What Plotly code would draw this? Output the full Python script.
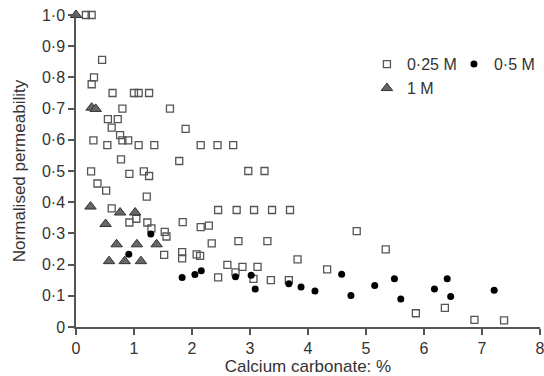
import plotly.graph_objects as go

# 0.25 M (open squares)
x_025 = [0.17, 0.27, 0.45, 0.31, 0.27, 0.63, 1.00, 1.08, 1.26, 0.80, 1.62,
         0.55, 0.72, 0.615, 1.89, 0.76, 0.80, 0.90, 0.30, 0.54, 1.08, 1.35,
         2.15, 2.44, 2.71, 0.776, 1.78, 0.26, 0.92, 1.17, 1.26, 2.97, 3.25,
         0.37, 0.52, 1.22, 0.615, 2.45, 2.77, 3.07, 3.38, 3.69, 0.92, 1.04,
         1.23, 1.30, 1.53, 1.56, 1.84, 2.15, 2.29, 2.34, 2.80, 3.30, 4.84,
         1.52, 1.83, 1.83, 2.08, 2.14, 3.82, 4.33, 2.61, 2.75, 2.87, 3.13,
         2.45, 3.06, 3.36, 3.67, 5.34, 5.86, 6.36, 6.87, 7.38]
y_025 = [1.00, 1.00, 0.856, 0.80, 0.778, 0.75, 0.75, 0.75, 0.75, 0.70, 0.70,
         0.666, 0.666, 0.639, 0.635, 0.615, 0.598, 0.598, 0.598, 0.583, 0.583, 0.583,
         0.583, 0.583, 0.583, 0.537, 0.532, 0.499, 0.491, 0.499, 0.484, 0.50, 0.50,
         0.46, 0.437, 0.418, 0.38, 0.375, 0.375, 0.375, 0.375, 0.375, 0.335, 0.347,
         0.335, 0.316, 0.305, 0.29, 0.336, 0.32, 0.325, 0.268, 0.275, 0.275, 0.307,
         0.231, 0.24, 0.22, 0.233, 0.228, 0.217, 0.185, 0.199, 0.175, 0.193, 0.193,
         0.159, 0.154, 0.15, 0.15, 0.249, 0.044, 0.061, 0.023, 0.021]

# 0.5 M (filled circles)
x_05 = [1.29, 0.91, 1.83, 2.05, 2.16, 2.75, 3.02, 3.09, 3.67, 3.88,
        4.12, 4.58, 4.74, 5.15, 5.49, 5.60, 6.18, 6.40, 6.46, 7.21]
y_05 = [0.298, 0.233, 0.159, 0.168, 0.18, 0.161, 0.166, 0.122, 0.139, 0.128,
        0.115, 0.169, 0.101, 0.133, 0.155, 0.09, 0.122, 0.155, 0.098, 0.118]

# 1 M (triangles)
x_1 = [0.0, 0.27, 0.34, 0.25, 0.76, 1.02, 0.51, 0.70, 1.05, 1.39, 0.57, 0.84, 1.12]
y_1 = [1.0, 0.703, 0.699, 0.386, 0.367, 0.367, 0.33, 0.265, 0.265, 0.265, 0.211, 0.211, 0.211]

x_ticks = [0, 1, 2, 3, 4, 5, 6, 7, 8]
y_ticks = [0, 0.1, 0.2, 0.3, 0.4, 0.5, 0.6, 0.7, 0.8, 0.9, 1.0]
y_ticktext = ["0", "0·1", "0·2", "0·3", "0·4", "0·5", "0·6", "0·7", "0·8", "0·9", "1·0"]

FONT = "Liberation Sans, Arial, sans-serif"
AX = "#555555"

fig = go.Figure()
fig.add_trace(go.Scatter(
    x=x_025, y=y_025, mode="markers", name="0·25 M", cliponaxis=False, legend="legend",
    marker=dict(symbol="square-open", size=7, color="#555555", line=dict(width=1.3, color="#555555"))))
fig.add_trace(go.Scatter(
    x=x_05, y=y_05, mode="markers", name="0·5 M", cliponaxis=False, legend="legend",
    marker=dict(symbol="circle", size=7, color="#000000", line=dict(width=0))))
fig.add_trace(go.Scatter(
    x=x_1, y=y_1, mode="markers", name="1 M", cliponaxis=False, legend="legend2",
    marker=dict(symbol="triangle-up", size=10, color="#666666", line=dict(width=1, color="#333333"))))

legend_common = dict(orientation="h", xanchor="left", yanchor="top",
                     bgcolor="rgba(0,0,0,0)", font=dict(size=16, color="#333333"),
                     entrywidth=42, entrywidthmode="pixels", itemwidth=30)

fig.update_layout(
    width=544, height=376,
    margin=dict(l=76, r=4, t=15, b=49, autoexpand=False),
    paper_bgcolor="white", plot_bgcolor="white",
    font=dict(family=FONT, size=16, color="#333333"),
    showlegend=True,
    legend=dict(x=0.627, y=0.897, **legend_common),
    legend2=dict(x=0.627, y=0.82, **legend_common),
)
fig.update_xaxes(
    range=[0, 8], tickvals=x_ticks, ticktext=[str(v) for v in x_ticks],
    showline=True, linecolor=AX, linewidth=1.5, ticks="outside", ticklen=6,
    tickcolor=AX, tickwidth=1.5, showgrid=False, zeroline=False,
    ticklabeloverflow="allow",
    title=dict(text="Calcium carbonate: %", font=dict(size=17), standoff=2),
    tickfont=dict(size=16))
fig.update_yaxes(
    range=[0, 1.0], tickvals=y_ticks, ticktext=y_ticktext,
    showline=True, linecolor=AX, linewidth=1.5, ticks="outside", ticklen=6,
    tickcolor=AX, tickwidth=1.5, showgrid=False, zeroline=False,
    ticklabeloverflow="allow",
    title=dict(text="Normalised permeability", font=dict(size=17), standoff=12),
    tickfont=dict(size=16))

fig.write_html("out.html", config={"displayModeBar": False},
               post_script="document.body.style.margin='0';")
